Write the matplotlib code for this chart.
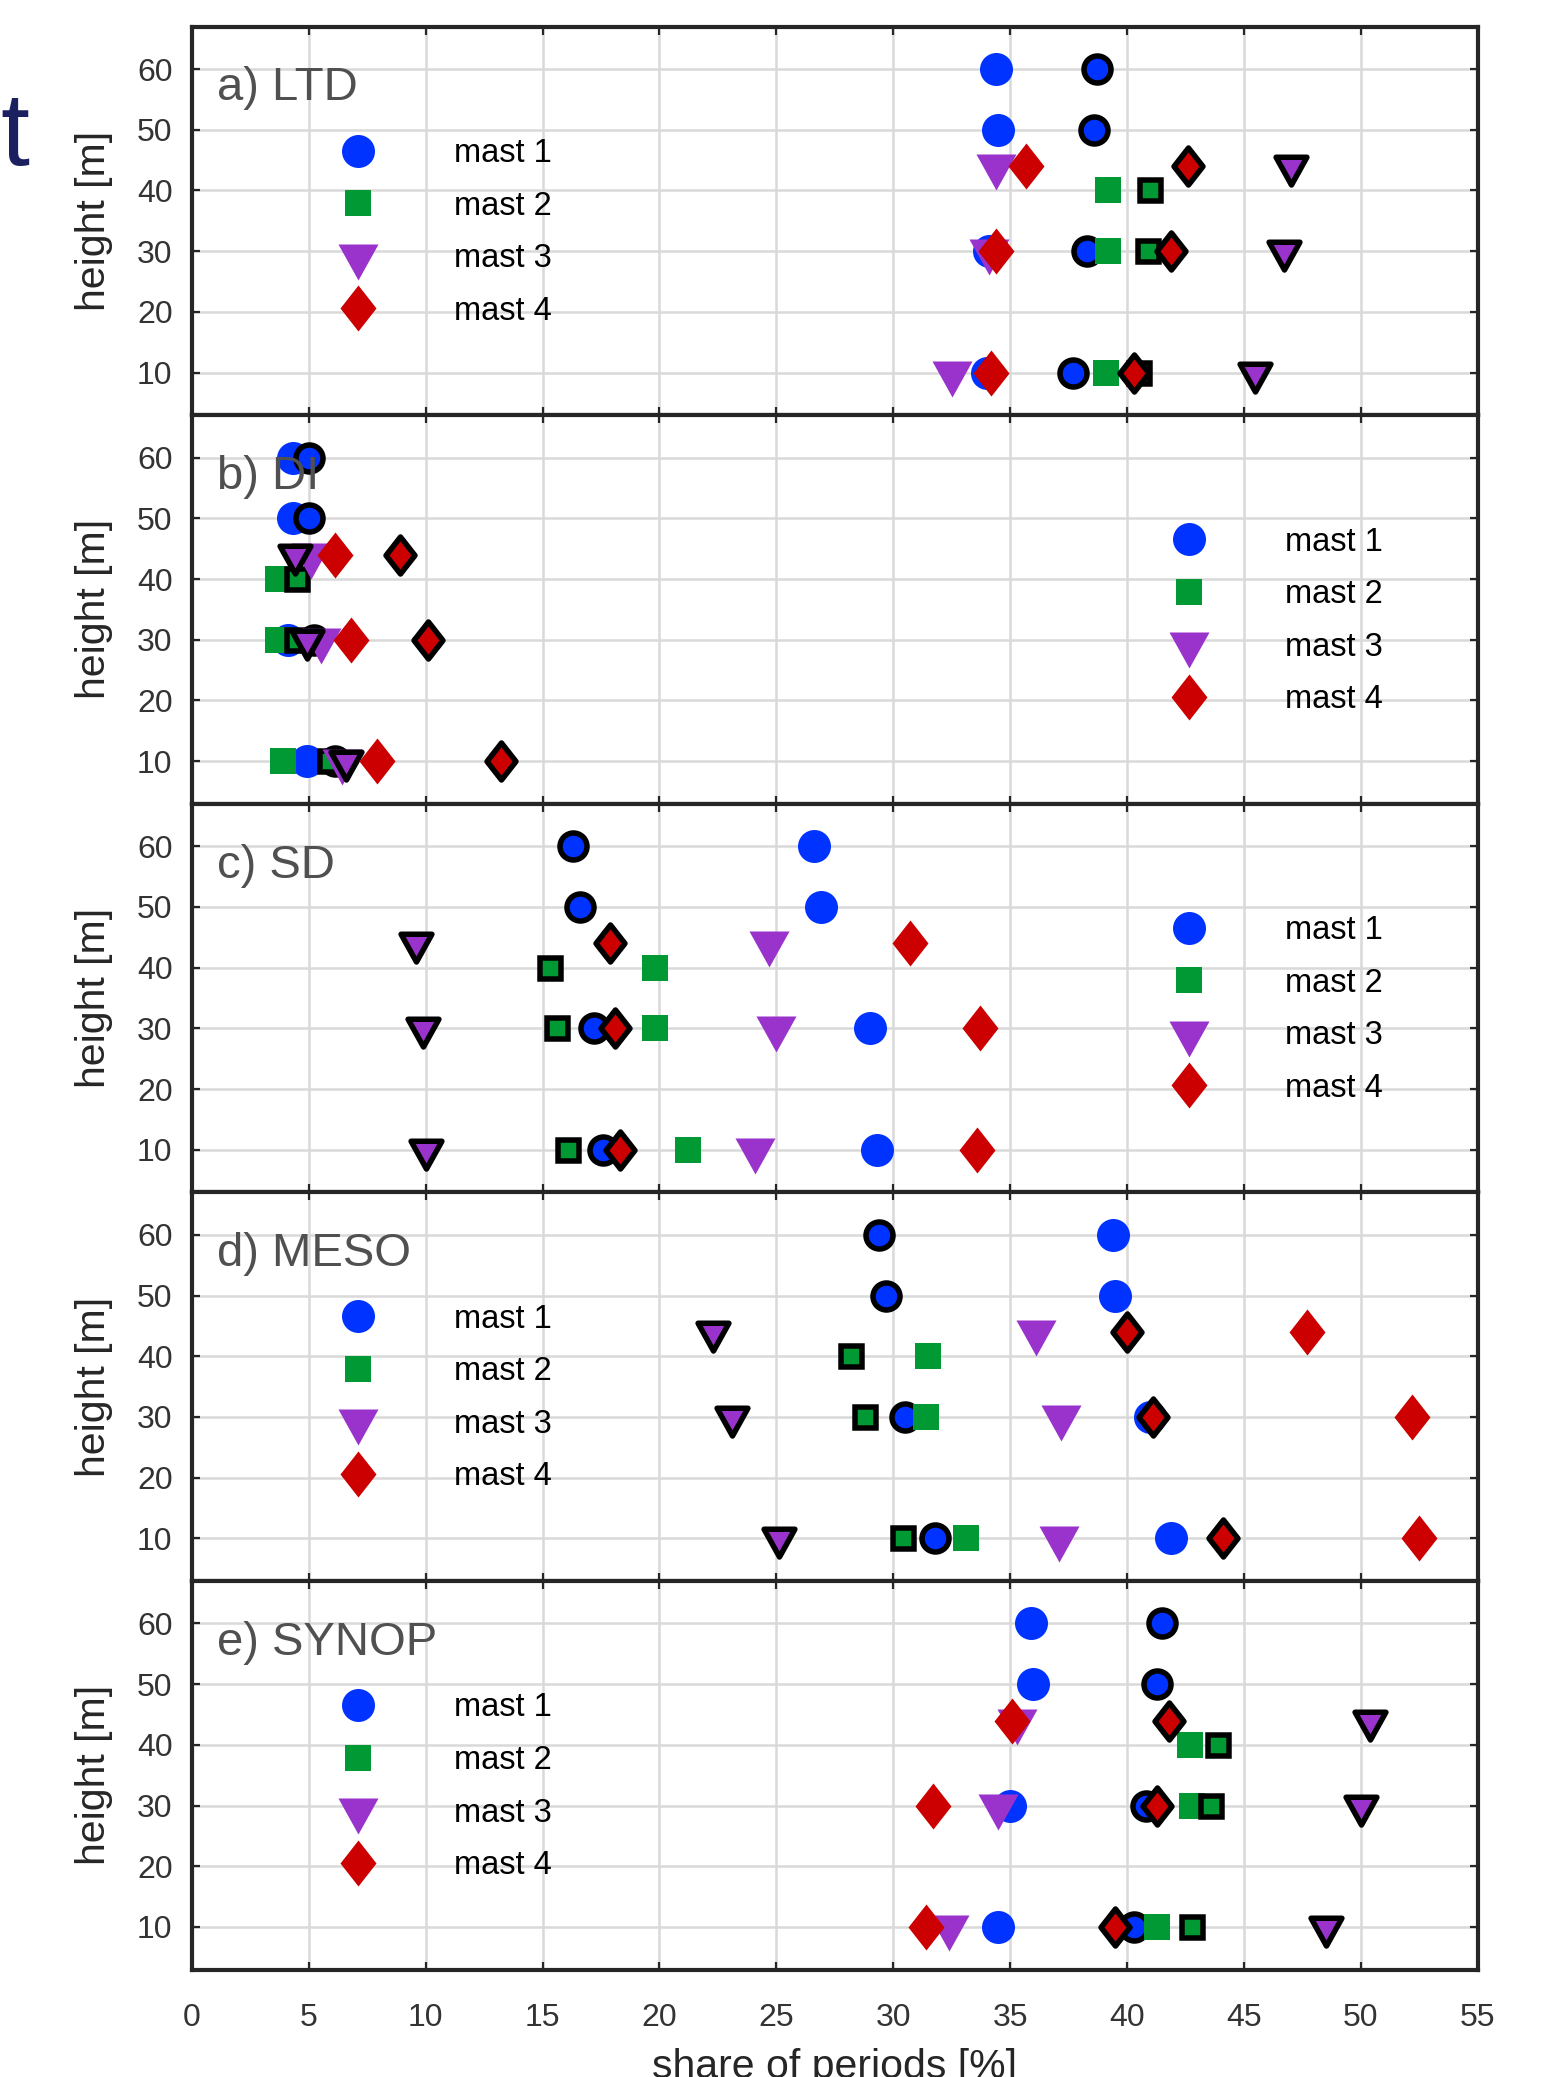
import numpy as np
import matplotlib
matplotlib.use("Agg")
import matplotlib.pyplot as plt
from matplotlib.path import Path
from matplotlib.markers import MarkerStyle
from matplotlib.lines import Line2D

plt.rcParams['font.family'] = ['Liberation Sans', 'DejaVu Sans']

# panel names
panels = ["a) LTD", "b) DI", "c) SD", "d) MESO", "e) SYNOP"]
mast_labels = ["mast 1", "mast 2", "mast 3", "mast 4"]

# measuring heights of each mast [m]
h_mast1 = [60, 50, 30, 10]
h_mast2 = [40, 30, 10]
h_mast3 = [44, 30, 10]
h_mast4 = [44, 30, 10]

# share of periods [%], one row per panel (a..e)
# plain filled markers
mast1_fill = [[34.4, 34.5, 34.1, 34.0],
              [4.3, 4.3, 4.1, 4.9],
              [26.6, 26.9, 29.0, 29.3],
              [39.4, 39.5, 41.0, 41.9],
              [35.9, 36.0, 35.0, 34.5]]
mast2_fill = [[39.2, 39.2, 39.1],
              [3.7, 3.7, 3.9],
              [19.8, 19.8, 21.2],
              [31.5, 31.4, 33.1],
              [42.7, 42.8, 41.3]]
mast3_fill = [[34.4, 34.1, 32.5],
              [5.1, 5.5, 6.4],
              [24.7, 25.0, 24.1],
              [36.1, 37.2, 37.1],
              [35.3, 34.5, 32.4]]
mast4_fill = [[35.7, 34.4, 34.2],
              [6.1, 6.8, 7.9],
              [30.7, 33.7, 33.6],
              [47.7, 52.2, 52.5],
              [35.1, 31.7, 31.4]]
# black edged markers
mast1_edge = [[38.7, 38.6, 38.3, 37.7],
              [5.0, 5.0, 5.2, 6.1],
              [16.3, 16.6, 17.2, 17.6],
              [29.4, 29.7, 30.5, 31.8],
              [41.5, 41.3, 40.8, 40.3]]
mast2_edge = [[41.0, 40.9, 40.5],
              [4.5, 4.5, 5.9],
              [15.3, 15.6, 16.1],
              [28.2, 28.8, 30.4],
              [43.9, 43.6, 42.8]]
mast3_edge = [[47.0, 46.7, 45.5],
              [4.4, 4.9, 6.6],
              [9.6, 9.9, 10.0],
              [22.3, 23.1, 25.1],
              [50.4, 50.0, 48.5]]
mast4_edge = [[42.6, 41.9, 40.3],
              [8.9, 10.1, 13.2],
              [17.9, 18.1, 18.3],
              [40.0, 41.1, 44.1],
              [41.8, 41.3, 39.5]]

colors = ['#0033ff', '#009933', '#9933cc', '#cc0000']

DPI = 100
PX = 72.0 / DPI  # points per pixel

# marker shapes (in pixels)
tri = Path([(-20, 12), (20, 12), (0, -24), (-20, 12)],
           [Path.MOVETO, Path.LINETO, Path.LINETO, Path.CLOSEPOLY])
dia = Path([(0, 23), (18, 0), (0, -23), (-18, 0), (0, 23)],
           [Path.MOVETO, Path.LINETO, Path.LINETO, Path.LINETO, Path.CLOSEPOLY])
markers = ['o', 's', MarkerStyle(tri, joinstyle='miter'), MarkerStyle(dia, joinstyle='miter')]
ms_fill = [33 * PX, 26 * PX, 48 * PX, 46 * PX]
ms_edge = [27 * PX, 21 * PX, 37 * PX, 37 * PX]
mew = 5.5 * PX

heights = [h_mast1, h_mast2, h_mast3, h_mast4]
fills = [mast1_fill, mast2_fill, mast3_fill, mast4_fill]
edges = [mast1_edge, mast2_edge, mast3_edge, mast4_edge]
legend_left = [True, False, False, True, True]

fig = plt.figure(figsize=(15.44, 20.77), dpi=DPI)
left = 192 / 1544
width = (1477.5 - 192) / 1544
ph = 388.6 / 2077
top0 = 26.5 / 2077

for i in range(5):
    bottom = 1 - top0 - (i + 1) * ph
    ax = fig.add_axes([left, bottom, width, ph])
    ax.set_axisbelow(True)
    for m in range(4):
        ax.plot(fills[m][i], heights[m], ls='none', marker=markers[m], ms=ms_fill[m],
                mfc=colors[m], mec='none', mew=0, zorder=3)
        ax.plot(edges[m][i], heights[m], ls='none', marker=markers[m], ms=ms_edge[m],
                mfc=colors[m], mec='black', mew=mew, zorder=3)

    ax.set_xlim(0, 55)
    ax.set_ylim(3, 67)
    ax.set_xticks(np.arange(0, 56, 5))
    ax.set_yticks(np.arange(10, 61, 10))
    ax.grid(True, color='#d9d9d9', lw=1.8)
    ax.tick_params(direction='in', top=True, right=True, length=6, width=1.6,
                   color='#262626', labelsize=23, labelcolor='#333333')
    ax.tick_params(axis='y', pad=14)
    for s in ax.spines.values():
        s.set_linewidth(3)
        s.set_color('#262626')
    if i < 4:
        ax.set_xticklabels([])
    else:
        ax.tick_params(axis='x', pad=24)
        ax.set_xlabel("share of periods [%]", fontsize=29.5, color='#262626', labelpad=11)
    ax.set_ylabel("height [m]", fontsize=29.5, color='#262626', labelpad=17)

    ax.text(25 / 1285.5, 0.81, panels[i], transform=ax.transAxes, fontsize=34,
            color='#505050', ha='left', va='baseline')

    handles = [Line2D([], [], ls='none', marker=markers[m], ms=ms_fill[m],
                      mfc=colors[m], mec='none', mew=0) for m in range(4)]
    lx = 0.1036 if legend_left[i] else 0.75
    ax.legend(handles, mast_labels, loc='upper left', bbox_to_anchor=(lx, 0.713),
              frameon=False, fontsize=23.5, handlelength=2.0, handletextpad=1.95,
              borderpad=0, borderaxespad=0, labelspacing=0.66)

fig.text(0.0, 1 - 165 / 2077, 't', fontsize=75, color='#1a2060',
         ha='left', va='baseline')

fig.savefig("out.png", dpi=DPI)
